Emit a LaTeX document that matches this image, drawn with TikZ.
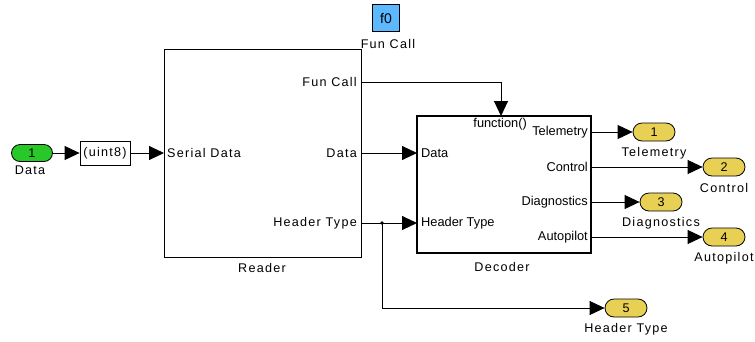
\documentclass[tikz,border=0pt]{standalone}
\usepackage{fontspec}
\usetikzlibrary{arrows.meta}
\newfontfamily\spacedfont[LetterSpace=10]{Liberation Sans}
\newfontfamily\plainfont{Liberation Sans}
\definecolor{ingreen}{RGB}{40,200,40}
\definecolor{outyellow}{RGB}{232,208,84}
\definecolor{fcblue}{RGB}{92,184,255}
\tikzset{
  lbl/.style={font=\spacedfont\fontsize{12.6}{14}\selectfont, inner sep=0pt},
  dlbl/.style={font=\plainfont\fontsize{12.8}{14}\selectfont, inner sep=0pt},
  inport/.style={draw, line width=0.8pt, fill=ingreen, rounded corners=8.5pt, minimum width=41pt, minimum height=17pt, inner sep=0pt, font=\spacedfont\fontsize{12.6}{14}\selectfont},
  outport/.style={draw, line width=0.8pt, fill=outyellow, rounded corners=9pt, minimum width=42pt, minimum height=18pt, inner sep=0pt, font=\spacedfont\fontsize{12.6}{14}\selectfont},
  sig/.style={line width=0.9pt, -{Triangle[length=15pt,width=14pt]}},
}
\begin{document}
\begin{tikzpicture}[x=1pt,y=-1pt]
\useasboundingbox (0,0) rectangle (755,341);
% inport
\node[inport] (in1) at (32,153) {1};
\node[lbl] (in1l) at (30,170) {Data};
% conversion
\node[draw, line width=0.8pt, minimum width=50pt, minimum height=24pt, inner sep=0pt, lbl] (conv) at (105,153) {(uint8)};
% Reader
\node[draw, line width=1pt, minimum width=197pt, minimum height=208pt, inner sep=0pt] (reader) at (262.5,153) {};
\node[lbl] (readerl) at (262,268) {Reader};
\coordinate (rin) at (164,153);
\coordinate (rfc) at (361,82);
\coordinate (rdata) at (361,153);
\coordinate (rht) at (361,223);
\node[lbl, anchor=west] (rinl) at (167,153) {Serial Data};
\node[lbl, anchor=east] (rfcl) at (357,82) {Fun Call};
\node[lbl, anchor=east] (rdatal) at (357,153) {Data};
\node[lbl, anchor=east] (rhtl) at (357,223) {Header Type};
% function-call generator
\node[draw, line width=0.8pt, fill=fcblue, minimum width=27pt, minimum height=27pt, inner sep=0pt, font=\plainfont\fontsize{14}{16}\selectfont] (fc) at (386,18) {f0};
\node[lbl] (fcl) at (388,44) {Fun Call};
% Decoder
\node[draw, line width=2.4pt, minimum width=174pt, minimum height=137pt, inner sep=0pt] (dec) at (504,184.5) {};
\node[lbl] (decl) at (502,267) {Decoder};
\coordinate (dtop) at (501,116);
\coordinate (ddata) at (417,153);
\coordinate (dht) at (417,223);
\coordinate (dtel) at (591,132);
\coordinate (dctl) at (591,167);
\coordinate (ddia) at (591,202);
\coordinate (daut) at (591,237);
\node[dlbl, anchor=west] (ddatal) at (421,153) {Data};
\node[dlbl, anchor=west] (dhtl) at (421,223) {Header Type};
\node[dlbl, anchor=east] (dfnl) at (527,124) {function()};
\node[dlbl, anchor=east] (dtell) at (588,132) {Telemetry};
\node[dlbl, anchor=east] (dctll) at (588,167) {Control};
\node[dlbl, anchor=east] (ddial) at (588,202) {Diagnostics};
\node[dlbl, anchor=east] (dautl) at (588,237) {Autopilot};
% outports
\node[outport] (o1) at (654,132) {1};
\node[lbl] (o1l) at (654,153) {Telemetry};
\node[outport] (o2) at (724,167) {2};
\node[lbl] (o2l) at (724,188) {Control};
\node[outport] (o3) at (661,202) {3};
\node[lbl] (o3l) at (661,223) {Diagnostics};
\node[outport] (o4) at (724,237) {4};
\node[lbl] (o4l) at (724,258) {Autopilot};
\node[outport] (o5) at (626,308) {5};
\node[lbl] (o5l) at (626,329) {Header Type};
% connectors
\draw[sig] (in1.east) -- (conv.west);
\draw[sig] (conv.east) -- (rin);
\draw[sig] (rfc) -| (dtop);
\draw[sig] (rdata) -- (ddata);
\coordinate (jn) at (382,223);
\draw[sig] (rht) -- (dht);
\fill (jn) circle (1.8pt);
\draw[sig] (jn) |- (o5.west);
\draw[sig] (dtel) -- (o1.west);
\draw[sig] (dctl) -- (o2.west);
\draw[sig] (ddia) -- (o3.west);
\draw[sig] (daut) -- (o4.west);
\end{tikzpicture}
\end{document}
